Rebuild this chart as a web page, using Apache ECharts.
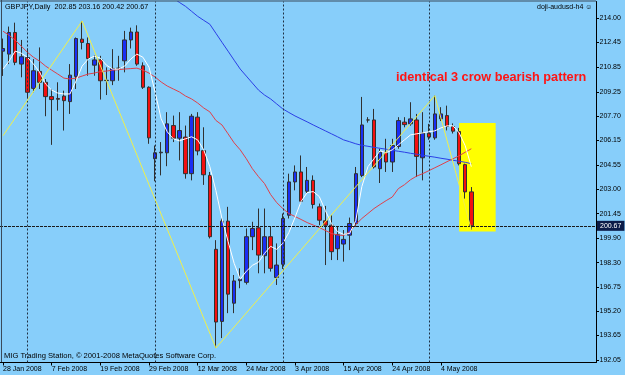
<!DOCTYPE html>
<html><head><meta charset="utf-8">
<script src="https://cdn.jsdelivr.net/npm/echarts@6/dist/echarts.min.js"></script>
<style>html,body{margin:0;padding:0;background:#87cefa}#c{width:625px;height:375px}</style>
</head><body><div id="c"></div>
<script>
const dates = ['28 Jan 2008','29 Jan 2008','30 Jan 2008','31 Jan 2008',
'1 Feb 2008','4 Feb 2008','5 Feb 2008','6 Feb 2008','7 Feb 2008','8 Feb 2008','11 Feb 2008','12 Feb 2008','13 Feb 2008','14 Feb 2008','15 Feb 2008','18 Feb 2008','19 Feb 2008','20 Feb 2008','21 Feb 2008','22 Feb 2008','25 Feb 2008','26 Feb 2008','27 Feb 2008','28 Feb 2008','29 Feb 2008',
'3 Mar 2008','4 Mar 2008','5 Mar 2008','6 Mar 2008','7 Mar 2008','10 Mar 2008','11 Mar 2008','12 Mar 2008','13 Mar 2008','14 Mar 2008','17 Mar 2008','18 Mar 2008','19 Mar 2008','20 Mar 2008','21 Mar 2008','24 Mar 2008','25 Mar 2008','26 Mar 2008','27 Mar 2008','28 Mar 2008','31 Mar 2008',
'1 Apr 2008','2 Apr 2008','3 Apr 2008','4 Apr 2008','7 Apr 2008','8 Apr 2008','9 Apr 2008','10 Apr 2008','11 Apr 2008','14 Apr 2008','15 Apr 2008','16 Apr 2008','17 Apr 2008','18 Apr 2008','20 Apr 2008','21 Apr 2008','22 Apr 2008','23 Apr 2008','24 Apr 2008','25 Apr 2008','27 Apr 2008','28 Apr 2008','29 Apr 2008','30 Apr 2008',
'1 May 2008','2 May 2008','4 May 2008','5 May 2008','6 May 2008','7 May 2008','8 May 2008','9 May 2008'];
const emptySlots = 20; // blank chart space to the right of the last bar

const opens  = [211.89,211.70,213.09,211.06,211.48,209.50,210.59,209.89,208.97,208.85,209.00,208.65,210.27,212.66,212.38,210.99,211.33,210.00,209.99,210.78,211.27,212.61,213.12,210.95,209.57,204.98,205.36,205.36,207.11,206.30,206.37,204.02,207.65,205.50,203.91,199.16,194.53,200.97,195.70,197.15,197.04,199.97,200.54,198.75,199.97,197.35,198.20,201.35,203.49,204.13,202.89,203.59,201.89,200.99,200.71,199.20,199.50,200.07,200.82,203.91,207.47,207.47,204.34,205.40,204.77,205.77,207.33,207.22,207.47,205.04,206.62,206.32,207.54,207.75,207.05,206.73,204.60,202.85];
const highs  = [212.70,213.47,213.72,212.61,212.06,211.38,212.13,210.10,209.46,209.89,209.35,211.06,212.77,213.83,212.77,211.63,211.59,210.85,212.02,211.59,213.19,213.40,213.55,211.17,209.63,205.83,206.05,207.97,207.75,207.97,207.11,207.86,207.97,207.00,204.13,199.75,201.14,201.89,197.51,197.94,200.50,200.93,201.78,201.78,200.61,199.54,201.46,204.02,204.55,205.19,204.45,203.91,202.10,201.95,201.35,200.60,200.40,201.20,204.45,208.95,207.65,208.18,205.62,206.26,206.26,207.65,207.65,208.61,207.86,207.97,207.22,209.03,208.29,208.39,207.25,206.96,204.66,203.16];
const lows   = [210.30,211.06,210.99,210.21,208.86,209.25,209.46,207.71,205.87,208.07,206.79,207.86,209.46,212.00,210.31,210.31,208.78,209.07,209.71,209.99,210.53,212.06,210.95,209.46,205.94,203.53,203.91,204.50,206.05,204.87,203.70,203.59,205.20,203.30,199.86,192.82,193.46,195.06,195.06,196.66,196.90,199.11,197.62,197.62,197.73,196.87,197.90,201.14,202.95,202.10,202.74,201.78,200.71,198.15,198.47,198.47,198.37,199.11,200.60,203.80,207.30,204.35,203.42,204.13,204.13,205.62,207.00,207.10,203.81,203.59,206.20,206.20,207.40,206.80,206.60,204.55,202.42,200.42];
const closes = [212.06,213.09,211.17,211.53,209.25,210.63,209.89,208.97,208.78,208.80,208.71,210.35,212.70,212.45,211.42,211.33,209.99,210.02,210.78,210.80,212.61,213.12,211.06,209.57,206.32,205.36,205.40,207.22,206.30,206.79,204.02,207.71,205.48,203.95,199.97,194.49,200.97,196.28,197.13,197.25,199.97,200.50,198.79,199.97,197.94,198.15,201.14,203.49,204.13,202.25,203.59,202.04,201.03,200.71,199.01,200.10,199.80,200.82,204.02,207.15,207.47,204.45,205.40,204.77,205.83,207.43,207.17,207.54,205.13,206.62,206.37,207.86,207.86,207.05,206.75,204.66,202.85,200.67];

// moving averages (null = above the visible chart)
const maBlue = [null,null,null,null,null,null,null,null,null,null,null,null,null,null,null,null,null,null,null,null,null,null,null,null,null,null,null,null,
215.30,215.02,214.77,214.45,214.13,213.87,213.62,213.04,212.46,211.89,211.31,210.74,210.29,209.84,209.39,209.07,208.82,208.50,208.18,207.95,207.73,207.54,207.35,207.15,206.96,206.77,206.58,206.39,206.19,206.07,205.94,205.84,205.78,205.71,205.65,205.59,205.52,205.46,205.40,205.33,205.27,205.20,205.14,205.08,205.01,204.95,204.88,204.82,204.75,204.66];
const maRed = [213.17,212.91,212.59,212.21,211.82,211.50,211.25,210.93,210.67,210.42,210.16,210.10,210.16,210.29,210.42,210.48,210.58,210.61,210.67,210.70,210.74,210.77,210.80,210.67,210.48,210.23,209.91,209.65,209.46,209.27,209.01,208.82,208.56,208.24,207.99,207.44,207.15,206.58,206.00,205.55,204.98,204.34,203.83,203.38,202.68,202.16,201.78,201.46,201.27,201.08,200.88,200.72,200.56,200.37,200.18,200.08,200.05,200.30,200.75,201.14,201.46,201.78,202.04,202.29,202.52,203.06,203.31,203.63,203.86,204.02,204.21,204.40,204.59,204.79,204.98,205.17,205.40,205.62];
const maWhite = [210.74,211.25,211.89,211.76,211.50,211.06,210.55,209.78,209.39,209.20,209.14,209.14,209.97,210.93,211.38,211.57,211.44,210.99,210.74,210.74,210.93,211.38,211.70,211.50,210.86,209.27,207.54,206.71,206.26,206.13,206.26,206.39,206.19,205.55,204.47,202.93,201.14,199.67,198.26,197.24,197.75,198.13,198.33,198.90,199.35,199.16,199.54,200.24,201.20,202.23,202.80,202.87,202.55,201.65,200.82,200.30,200.12,200.18,201.01,203.19,204.47,204.98,205.49,205.36,205.55,205.87,206.19,206.51,206.58,206.64,206.71,206.77,206.96,207.09,207.09,206.64,205.81,204.47];
// zigzag vertices (bar index -> price)
const zigzagIdx = [0, 13, 35, 71, 77];
const zigzagVal = [206.46, 213.83, 192.82, 209.03, 200.42];

const xTickLabels = ['28 Jan 2008','7 Feb 2008','19 Feb 2008','29 Feb 2008','12 Mar 2008','24 Mar 2008','3 Apr 2008','15 Apr 2008','24 Apr 2008','4 May 2008'];
const yTickLabels = ['192.05','193.65','195.20','196.75','198.30','199.90','201.45','203.00','204.55','206.15','207.70','209.25','210.85','212.45','214.00'];
const monthStarts = ['1 Feb 2008','3 Mar 2008','1 Apr 2008','1 May 2008'];
const currentPrice = 200.67;
const patternBox = {fromDate:'7 May 2008', toSlot: 81, top: 207.28, bottom: 200.31};
const titleText = 'GBPJPY,Daily  202.85 203.16 200.42 200.67';
const noteText = 'identical 3 crow bearish pattern';
const footerText = 'MIG Trading Station, © 2001-2008 MetaQuotes Software Corp.';
const expertText = 'doji-audusd-h4 ☺';

const categories = dates.concat(new Array(emptySlots).fill(''));
const ohlc = dates.map((d, i) => [opens[i], closes[i], lows[i], highs[i]]);
const zigzag = dates.map(() => null);
zigzagIdx.forEach((k, j) => { zigzag[k] = zigzagVal[j]; });
const showTick = (i, v) => xTickLabels.indexOf(v) >= 0;
const FONT = 'Liberation Sans, Arial, sans-serif';

const chart = echarts.init(document.getElementById('c'), null, {renderer: 'canvas'});
chart.setOption({
  animation: false,
  backgroundColor: '#87cefa',
  grid: {left: 0, top: 1.5, width: 596, height: 361},
  xAxis: {
    type: 'category', data: categories, boundaryGap: true,
    axisLine: {show: true, lineStyle: {color: '#000', width: 1}},
    axisTick: {show: true, interval: showTick, alignWithLabel: true, length: 3, lineStyle: {color: '#000'}},
    axisLabel: {interval: showTick, align: 'left', margin: 3, fontSize: 7, color: '#000', fontFamily: FONT},
    splitLine: {show: false}
  },
  yAxis: {
    type: 'value', position: 'right', min: 191.89, max: 215.08, scale: true,
    axisLine: {show: true, lineStyle: {color: '#000', width: 1}},
    axisTick: {show: true, length: 3, customValues: yTickLabels.map(Number), lineStyle: {color: '#000'}},
    axisLabel: {customValues: yTickLabels.map(Number), formatter: v => v.toFixed(2), margin: 3.5, fontSize: 7, color: '#000', fontFamily: FONT},
    splitLine: {show: false}
  },
  series: [
    {
      type: 'line', data: [], z: 1, silent: true,
      markArea: {silent: true, itemStyle: {color: '#ffff00', opacity: 1},
        data: [[{xAxis: patternBox.fromDate, yAxis: patternBox.top}, {xAxis: patternBox.toSlot, yAxis: patternBox.bottom}]]}
    },
    {
      type: 'candlestick', data: ohlc, z: 3, barWidth: 4,
      itemStyle: {color: '#1a2ef2', color0: '#f21010', borderColor: '#303030', borderColor0: '#303030', borderWidth: 1},
      markLine: {
        silent: true, symbol: ['none', 'none'],
        lineStyle: {color: '#1a1a1a', type: [3, 1], width: 1},
        label: {show: true, position: 'end', distance: 1, formatter: currentPrice.toFixed(2), color: '#fff',
          backgroundColor: '#0b1b48', padding: [2, 3, 1, 3], fontSize: 7, fontFamily: FONT},
        data: [{yAxis: currentPrice}]
      }
    },
    {
      type: 'line', data: maBlue, z: 4, symbol: 'none', lineStyle: {color: '#2b3fe6', width: 1},
      markLine: {silent: true, symbol: ['none', 'none'], label: {show: false},
        lineStyle: {color: '#1e2e40', type: [2, 2], width: 1},
        data: monthStarts.map(m => ({xAxis: m}))}
    },
    {type: 'line', data: maRed, z: 4, symbol: 'none', lineStyle: {color: '#e0404a', width: 1}},
    {type: 'line', data: maWhite, z: 4, symbol: 'none', lineStyle: {color: '#ffffff', width: 1}},
    {type: 'line', data: zigzag, z: 5, symbol: 'none', connectNulls: true, lineStyle: {color: '#f0f04a', width: 1}}
  ],
  graphic: [
    {type: 'line', shape: {x1: 1.5, y1: 0, x2: 1.5, y2: 362}, style: {stroke: '#3a4a5a', lineWidth: 1}, z: 10},
    {type: 'line', shape: {x1: 0, y1: 1, x2: 596, y2: 1}, style: {stroke: '#3a4a5a', lineWidth: 1}, z: 10},
    {type: 'text', left: 5, top: 4, z: 10, style: {text: titleText, fill: '#000', font: '7.2px Liberation Sans'}},
    {type: 'text', left: 537, top: 4, z: 10, style: {text: expertText, fill: '#000', font: '7px Liberation Sans'}},
    {type: 'text', left: 396, top: 71, z: 10, style: {text: noteText, fill: '#ff1414', font: 'bold 12.7px Liberation Sans'}},
    {type: 'text', left: 4, top: 352, z: 10, style: {text: footerText, fill: '#000', font: '7.6px Liberation Sans'}}
  ]
});
</script></body></html>
